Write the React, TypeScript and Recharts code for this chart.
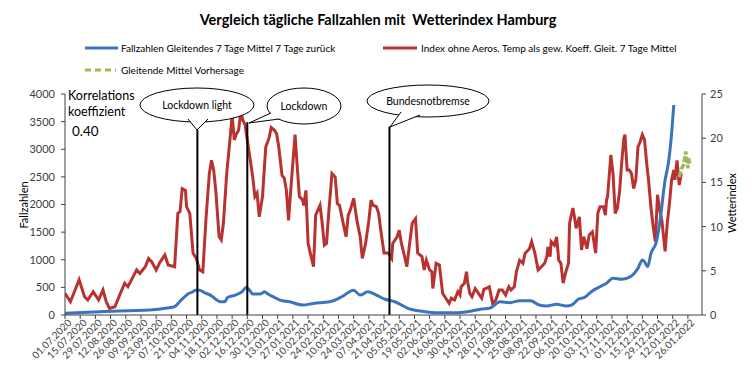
import React from 'react';
import { LineChart, Line, XAxis, YAxis, ReferenceLine } from 'recharts';

const TITLE = 'Vergleich tägliche Fallzahlen mit  Wetterindex Hamburg';

// x-Werte = Tage seit dem 01.07.2020
const tickLabels = [
  '01.07.2020', '15.07.2020', '29.07.2020', '12.08.2020', '26.08.2020', '09.09.2020', '23.09.2020',
  '07.10.2020', '21.10.2020', '04.11.2020', '18.11.2020', '02.12.2020', '16.12.2020', '30.12.2020',
  '13.01.2021', '27.01.2021', '10.02.2021', '24.02.2021', '10.03.2021', '24.03.2021', '07.04.2021',
  '21.04.2021', '05.05.2021', '19.05.2021', '02.06.2021', '16.06.2021', '30.06.2021', '14.07.2021',
  '28.07.2021', '11.08.2021', '25.08.2021', '08.09.2021', '22.09.2021', '06.10.2021', '20.10.2021',
  '03.11.2021', '17.11.2021', '01.12.2021', '15.12.2021', '29.12.2021', '12.01.2022', '26.01.2022',
];
const tickDays = tickLabels.map((_, i) => i * 14);

const faelleDays = [
  0, 32, 78, 94, 101, 106, 107, 112, 114, 118, 120, 124, 129, 134, 138, 143, 147, 150, 157, 163,
  167, 170, 173, 180, 184, 187, 193, 198, 207, 219, 229, 244, 255, 266, 272, 279, 287, 295, 304, 316,
  332, 341, 362, 375, 384, 391, 401, 410, 419, 429, 437, 444, 453, 462, 467, 473, 479, 485, 493, 499,
  505, 513, 522, 528, 532, 534, 537, 540, 545, 548, 553, 556, 559, 561,
];
const faelleValues = [
  30, 60, 90, 125, 150, 250, 270, 360, 390, 420, 450, 450, 400, 360, 300, 240, 240, 320, 360, 420,
  500, 450, 380, 380, 420, 380, 320, 270, 240, 180, 210, 240, 330, 450, 360, 420, 360, 285, 240, 121,
  60, 42, 42, 72, 110, 121, 240, 223, 259, 259, 181, 163, 193, 163, 181, 284, 320, 422, 512, 574,
  664, 646, 706, 845, 995, 965, 874, 1117, 1327, 1660, 2443, 2746, 3289, 3801,
];

const indexDays = [
  0, 5, 13, 18, 21, 26, 31, 35, 38, 41, 46, 51, 55, 58, 66, 69, 74, 77, 80, 84,
  87, 92, 95, 101, 104, 106, 108, 111, 112, 115, 118, 121, 124, 127, 130, 133, 135, 137, 139, 142,
  144, 146, 149, 152, 154, 156, 158, 160, 162, 164, 166, 168, 171, 173, 175, 177, 179, 182, 185, 188,
  190, 193, 195, 197, 198, 200, 202, 204, 206, 208, 212, 214, 216, 219, 220, 222, 224, 226, 229, 231,
  235, 237, 239, 241, 243, 246, 249, 251, 253, 257, 259, 261, 263, 266, 269, 272, 274, 277, 280, 282,
  284, 287, 289, 291, 294, 298, 301, 302, 306, 308, 310, 313, 315, 318, 320, 323, 325, 329, 331, 333,
  336, 338, 339, 342, 345, 348, 352, 354, 356, 359, 362, 364, 365, 368, 370, 371, 373, 375, 378, 379,
  381, 384, 386, 388, 391, 394, 397, 400, 403, 406, 409, 411, 414, 416, 419, 422, 424, 428, 430, 433,
  436, 439, 442, 444, 445, 447, 448, 451, 453, 455, 457, 459, 462, 464, 465, 468, 470, 471, 474, 476,
  478, 481, 483, 486, 489, 491, 493, 496, 498, 499, 500, 503, 505, 507, 509, 511, 513, 515, 516, 518,
  520, 522, 524, 526, 528, 530, 532, 534, 536, 538, 540, 542, 544, 546, 548, 550, 553, 555, 557, 559,
  561, 562, 564, 566, 568,
];
const indexValues = [
  2.45, 1.5, 4.0, 2.07, 1.7, 2.64, 1.7, 2.83, 1.5, 0.75, 0.94, 2.45, 3.6, 3.2, 5.1, 4.7, 5.46, 6.4, 6.0, 5.1,
  5.85, 6.8, 5.65, 5.46, 11.5, 11.7, 14.3, 14.1, 12.25, 11.5, 7.0, 6.4, 5.1, 4.9, 11.0, 16.0, 17.5, 16.4, 14.0, 8.85,
  8.5, 10.4, 16.0, 19.8, 22.6, 19.8, 20.5, 20.9, 23.0, 22.0, 21.5, 19.8, 17.3, 15.6, 13.4, 13.8, 11.1, 13.4, 19.0, 20.0,
  21.2, 20.9, 20.5, 19.0, 17.9, 15.8, 15.5, 14.1, 10.7, 14.1, 20.4, 16.8, 13.4, 13.0, 12.4, 14.1, 8.1, 7.0, 5.46, 11.3,
  12.4, 10.4, 7.9, 8.1, 11.5, 16.0, 15.6, 12.6, 12.4, 10.0, 8.85, 11.3, 11.9, 13.2, 10.7, 8.85, 6.4, 8.1, 10.7, 13.0,
  12.4, 12.25, 11.5, 9.6, 7.0, 7.0, 6.4, 8.1, 8.85, 9.6, 8.1, 6.6, 5.46, 8.5, 10.4, 10.9, 7.0, 6.6, 5.1, 6.2,
  5.1, 4.9, 3.0, 5.85, 5.65, 2.45, 1.7, 1.32, 1.9, 1.7, 2.64, 2.26, 3.2, 3.6, 4.9, 3.77, 2.45, 2.07, 3.0, 2.83,
  2.45, 1.9, 2.9, 3.0, 3.2, 1.32, 1.7, 2.83, 2.83, 2.26, 3.2, 2.83, 3.2, 4.9, 6.2, 5.85, 7.0, 7.5, 8.3, 7.0,
  5.1, 5.46, 5.85, 6.6, 7.7, 6.6, 8.3, 7.9, 8.85, 6.2, 5.85, 3.6, 5.1, 5.85, 10.4, 12.1, 10.7, 9.8, 11.1, 7.35,
  8.85, 7.5, 9.05, 9.4, 7.0, 11.5, 12.25, 12.25, 11.3, 13.0, 13.4, 18.1, 16.0, 11.5, 12.1, 13.9, 17.2, 20.0, 20.4, 16.4,
  16.4, 16.0, 14.3, 15.3, 19.0, 19.6, 20.4, 19.8, 17.2, 14.9, 12.1, 10.0, 8.3, 13.6, 11.9, 10.7, 7.2, 10.4, 12.6, 15.3,
  16.4, 15.3, 17.5, 14.7, 16.0,
];

const vorhersageDays = [566, 568, 570, 572, 574, 575, 576];
const vorhersageValues = [15.6, 16.5, 17.0, 18.5, 16.6, 17.7, 17.2];

const eventNames = ['Lockdown light', 'Lockdown', 'Bundesnotbremse'];
const eventDays = [122, 168, 299];

const faelle = faelleDays.map((day, i) => ({ day, value: faelleValues[i] }));
const wetter = indexDays.map((day, i) => ({ day, value: indexValues[i] }));
const vorhersage = vorhersageDays.map((day, i) => ({ day, value: vorhersageValues[i] }));

const BLUE = '#3b74bd';
const RED = '#b83330';
const GREEN = '#9bbb59';
const FONT = 'Lato, "Open Sans", sans-serif';
const AXIS = '#404040';

// Hoehe der senkrechten Linien (linke Achse) und Sprechblasen
const lineTops = [3350, 3490, 3410];
const bubbles = [
  { cx: 197, cy: 105, rx: 57, ry: 17, base: [[188, 119], [208, 119]], tip: [197, 130] },
  { cx: 304, cy: 106, rx: 37, ry: 18, base: [[271, 113], [279, 119]], tip: [249, 123] },
  { cx: 428, cy: 101, rx: 61, ry: 16, base: [[401, 112], [420, 115]], tip: [390, 127] },
];

const DateTick = ({ x, y, payload }: any) => {
  const idx = Math.round(payload.value / 14);
  return (
    <g transform={`translate(${x + 2},${y - 3})`}>
      <text x={0} y={0} dy="0.75em" textAnchor="end" transform="rotate(-45)" fontSize={10} fill={AXIS} fontFamily={FONT}>
        {tickLabels[idx]}
      </text>
    </g>
  );
};

const App = () => {
  return (
    <div style={{ position: 'absolute', left: 0, top: 0, width: 756, height: 379, background: '#fff' }}>
      <LineChart width={756} height={379} margin={{ top: 94, right: 10, bottom: 0, left: 20 }}>
        <XAxis
          dataKey="day"
          type="number"
          domain={[0, 587]}
          ticks={tickDays}
          interval={0}
          height={64}
          tickSize={4}
          tick={<DateTick />}
          stroke={AXIS}
          allowDataOverflow
        />
        <YAxis
          yAxisId="left"
          orientation="left"
          domain={[0, 4000]}
          ticks={[0, 500, 1000, 1500, 2000, 2500, 3000, 3500, 4000]}
          width={45}
          tickSize={4}
          tickMargin={6}
          stroke={AXIS}
          tick={{ fontSize: 11, fill: AXIS, fontFamily: FONT }}
        />
        <YAxis
          yAxisId="right"
          orientation="right"
          domain={[0, 25]}
          ticks={[0, 5, 10, 15, 20, 25]}
          width={44}
          tickSize={4}
          tickMargin={4}
          stroke={AXIS}
          tick={{ fontSize: 11, fill: AXIS, fontFamily: FONT }}
        />
        <Line data={wetter} yAxisId="right" dataKey="value" type="linear" stroke={RED} strokeWidth={3} dot={false} isAnimationActive={false} />
        <Line data={faelle} yAxisId="left" dataKey="value" type="monotone" stroke={BLUE} strokeWidth={3} dot={false} isAnimationActive={false} />
        <Line data={vorhersage} yAxisId="right" dataKey="value" type="linear" stroke={GREEN} strokeWidth={3.5} strokeDasharray="6 2" dot={false} isAnimationActive={false} />
        {eventDays.map((d, i) => (
          <ReferenceLine
            key={eventNames[i]}
            yAxisId="left"
            segment={[{ x: d, y: 0 }, { x: d, y: lineTops[i] }]}
            stroke="#000"
            strokeWidth={2}
          />
        ))}
      </LineChart>

      <svg width={756} height={379} style={{ position: 'absolute', left: 0, top: 0, pointerEvents: 'none' }}>
        <text x={378} y={25} textAnchor="middle" fontFamily={FONT} fontWeight="bold" fontSize={14.5} fill="#000" style={{ whiteSpace: 'pre' }}>
          {TITLE}
        </text>

        {/* Legende */}
        <line x1={85} y1={48} x2={118} y2={48} stroke={BLUE} strokeWidth={3} />
        <text x={121} y={51.5} fontFamily={FONT} fontSize={10} fill="#000">Fallzahlen Gleitendes 7 Tage Mittel 7 Tage zurück</text>
        <line x1={383} y1={48} x2={417} y2={48} stroke={RED} strokeWidth={3} />
        <text x={421} y={51.5} fontFamily={FONT} fontSize={10} fill="#000">Index ohne Aeros. Temp als gew. Koeff. Gleit. 7 Tage Mittel</text>
        <line x1={85} y1={70} x2={116} y2={70} stroke={GREEN} strokeWidth={3} strokeDasharray="6 4" />
        <text x={121} y={73.5} fontFamily={FONT} fontSize={10} fill="#000">Gleitende Mittel Vorhersage</text>

        {/* Achsentitel */}
        <text transform="translate(28,205) rotate(-90)" textAnchor="middle" fontFamily={FONT} fontSize={11} fill="#000">Fallzahlen</text>
        <text transform="translate(736,203) rotate(-90)" textAnchor="middle" fontFamily={FONT} fontSize={11} fill="#000">Wetterindex</text>

        {/* Korrelationskoeffizient */}
        <text x={68} y={100} fontFamily={FONT} fontSize={12.5} fill="#000">Korrelations</text>
        <text x={68} y={116} fontFamily={FONT} fontSize={12.5} fill="#000">koeffizient</text>
        <text x={72} y={136} fontFamily={FONT} fontSize={13.5} fill="#000">0.40</text>

        {/* Sprechblasen */}
        {bubbles.map((b, i) => (
          <g key={eventNames[i]}>
            <ellipse cx={b.cx} cy={b.cy} rx={b.rx} ry={b.ry} fill="#fff" stroke="#000" strokeWidth={1} />
            <polygon points={`${b.base[0][0]},${b.base[0][1]} ${b.tip[0]},${b.tip[1]} ${b.base[1][0]},${b.base[1][1]}`} fill="#fff" />
            <line x1={b.base[0][0]} y1={b.base[0][1]} x2={b.tip[0]} y2={b.tip[1]} stroke="#000" strokeWidth={1} />
            <line x1={b.base[1][0]} y1={b.base[1][1]} x2={b.tip[0]} y2={b.tip[1]} stroke="#000" strokeWidth={1} />
            <text x={b.cx} y={b.cy + 4} textAnchor="middle" fontFamily={FONT} fontSize={10.5} fill="#000">{eventNames[i]}</text>
          </g>
        ))}
      </svg>
    </div>
  );
};

export default App;
